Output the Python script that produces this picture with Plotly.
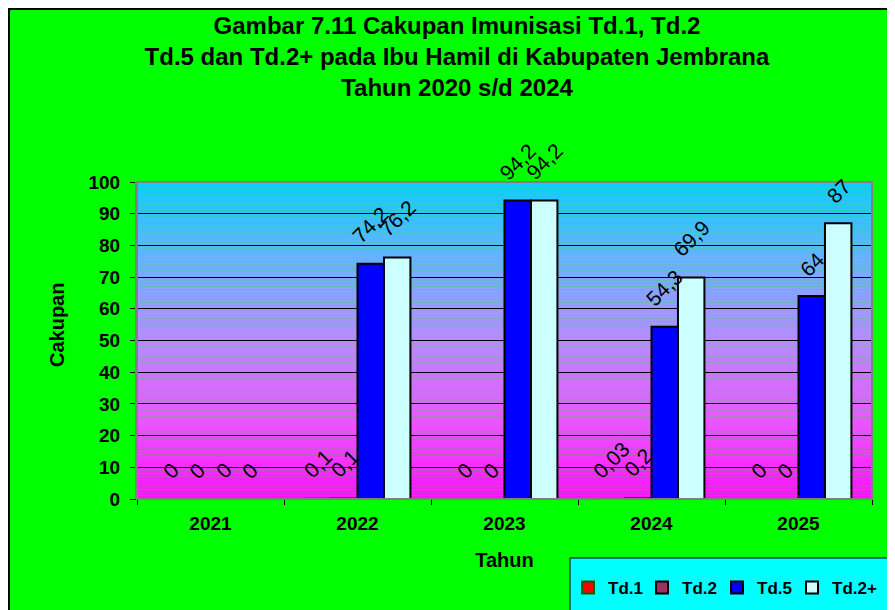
import plotly.graph_objects as go

# ===== data =====
years = ['2021', '2022', '2023', '2024', '2025']
series_names = ['Td.1', 'Td.2', 'Td.5', 'Td.2+']
td1 = [0, 0.1, 0, 0.03, 0]
td2 = [0, 0.1, 0, 0.2, 0]
td5 = [0, 74.2, 94.2, 54.3, 64]
td2plus = [0, 76.2, 94.2, 69.9, 87]
y_ticks = list(range(0, 101, 10))

fill_colors = ['#FF0000', '#993366', '#0000FF', '#CCFFFF']
line_colors = ['#006600', '#000000', '#000000', '#000000']
legend_ids = ['legend', 'legend2', 'legend3', 'legend4']
legend_px = [560, 634, 709, 784]   # left edge of each legend entry (figure px)

# figure size and plot area in figure pixels
W, H = 895, 610
L, R, T, B = 129, 864, 174, 491

def px_x(p):
    return (p - L) / (R - L)

def px_y(p):
    return (B - p) / (B - T)

fig = go.Figure()
all_series = [td1, td2, td5, td2plus]
for name, vals, fc, lc, lg in zip(series_names, all_series, fill_colors, line_colors, legend_ids):
    fig.add_trace(go.Bar(
        x=years, y=vals, name=name, legend=lg, showlegend=True,
        marker=dict(color=fc, line=dict(color=lc, width=2))))

# rotated value labels above each bar
bar_w = (1 - 0.28) / 4
for k, vals in enumerate(all_series):
    off = (k - 1.5) * bar_w
    for i, v in enumerate(vals):
        txt = ('%g' % v).replace('.', ',')
        fig.add_annotation(
            x=i + off, y=v, text=txt, showarrow=False, textangle=-45,
            yshift=25 + 3.5 * len(txt),
            font=dict(family='Liberation Sans', size=21, color='black'))

# ===== background: green frame, gradient plot area =====
shapes = [dict(type='rect', xref='paper', yref='paper',
               x0=px_x(1), x1=px_x(W + 10), y0=px_y(H + 10), y1=px_y(1),
               fillcolor='#00FF00', line=dict(color='black', width=2), layer='below')]

stops = [(0, (255, 15, 255)), (25, (232, 88, 255)), (50, (182, 140, 255)),
         (75, (110, 176, 255)), (100, (15, 204, 255))]

def grad(v):
    for (a, ca), (b, cb) in zip(stops[:-1], stops[1:]):
        if a <= v <= b:
            t = (v - a) / (b - a)
            return 'rgb(%d,%d,%d)' % tuple(round(ca[j] + (cb[j] - ca[j]) * t) for j in range(3))

for s in range(100):
    shapes.append(dict(type='rect', xref='x domain', yref='y', x0=0, x1=1,
                       y0=s, y1=s + 1.02, fillcolor=grad(s + 0.5),
                       line=dict(width=0), layer='below'))
# gray frame around plot area
shapes.append(dict(type='rect', xref='paper', yref='paper', x0=0, x1=1, y0=0, y1=1,
                   line=dict(color='#808080', width=2), layer='above'))
# legend box
shapes.append(dict(type='rect', xref='paper', yref='paper',
                   x0=px_x(562), x1=px_x(W + 10), y0=px_y(H + 10), y1=px_y(550),
                   fillcolor='#00FFFF', line=dict(color='black', width=1), layer='below'))

bold = dict(family='Liberation Sans', weight='bold', color='black')

# y axis title placed a bit above the plot middle, as in the original
fig.add_annotation(xref='paper', yref='paper', x=px_x(49), y=px_y(317),
                   xanchor='center', yanchor='middle',
                   text='Cakupan', textangle=-90, showarrow=False,
                   font=dict(size=20, **bold))

leg_common = dict(orientation='h', xanchor='left', y=px_y(580), yanchor='middle',
                  bgcolor='rgba(0,0,0,0)', font=dict(size=17, **bold),
                  itemwidth=30)
legends = {lg: dict(x=px_x(p), **leg_common) for lg, p in zip(legend_ids, legend_px)}

fig.update_layout(
    width=W, height=H,
    margin=dict(l=L, r=W - R, t=T, b=H - B, autoexpand=False),
    paper_bgcolor='#00FF00', plot_bgcolor='rgba(0,0,0,0)',
    font=dict(family='Liberation Sans', color='black'),
    barmode='group', bargap=0.28, bargroupgap=0,
    showlegend=True,
    shapes=shapes,
    title=dict(
        text='Gambar 7.11 Cakupan Imunisasi Td.1, Td.2<br>'
             'Td.5 dan Td.2+ pada Ibu Hamil di Kabupaten Jembrana<br>'
             'Tahun 2020 s/d 2024',
        x=449 / W, xanchor='center', y=1 - 26 / H, yanchor='top',
        font=dict(size=24, **bold)),
    xaxis=dict(type='category', tickson='boundaries', ticks='outside', ticklen=5,
               tickcolor='black', showline=True, linecolor='black', linewidth=1,
               tickfont=dict(size=19, **bold), ticklabelstandoff=7,
               title=dict(text='Tahun', font=dict(size=20, **bold), standoff=20)),
    yaxis=dict(range=[0, 100], tickvals=y_ticks, ticks='outside', ticklen=5,
               tickcolor='black', showgrid=True, gridcolor='black', gridwidth=1,
               zeroline=False, showline=True, linecolor='#808080', linewidth=2,
               tickfont=dict(size=19, **bold), ticklabelstandoff=6),
    **legends,
)

fig.write_html('out.html')
